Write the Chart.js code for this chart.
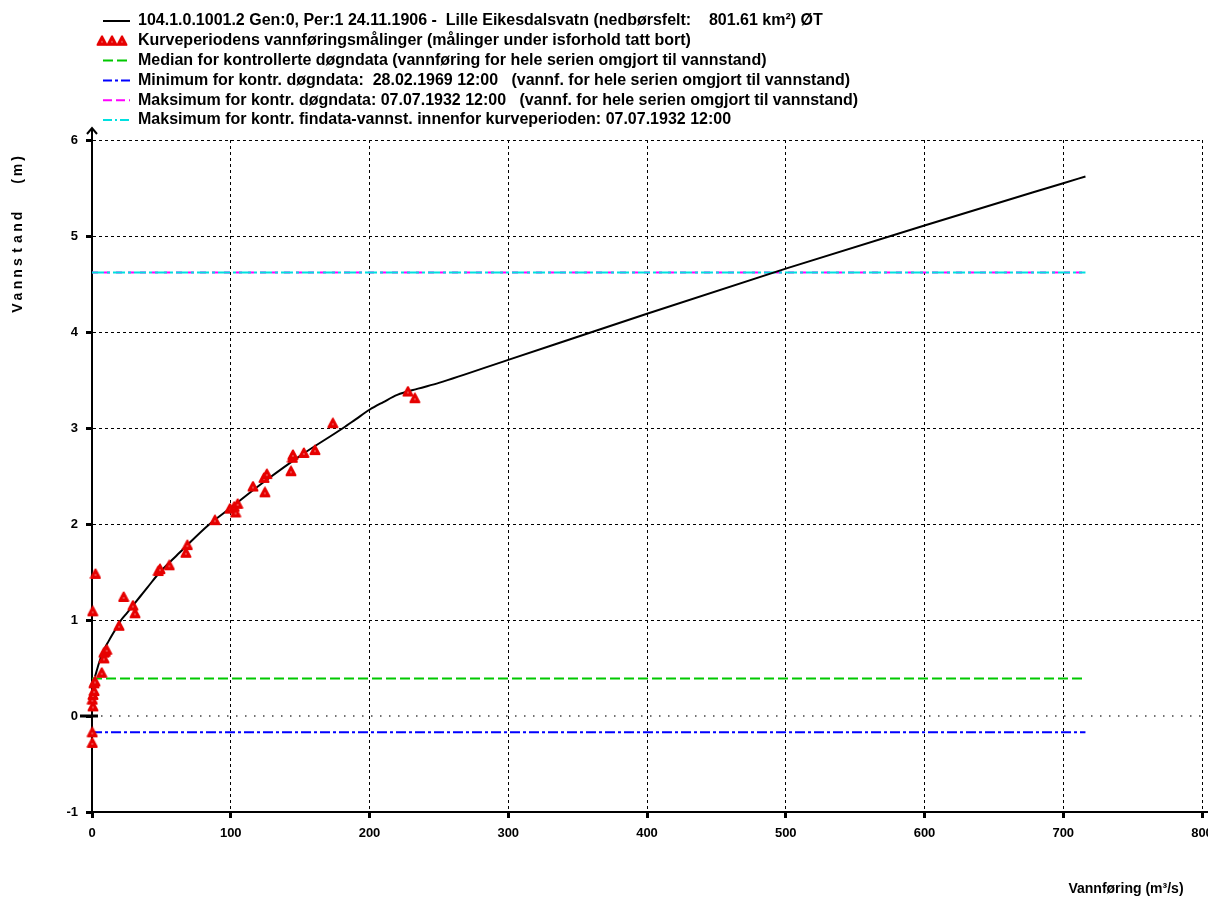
<!DOCTYPE html>
<html>
<head>
<meta charset="utf-8">
<script src="https://cdn.jsdelivr.net/npm/chart.js@4.4.0/dist/chart.umd.min.js"></script>
<style>
html, body { margin: 0; padding: 0; background: #fff; overflow: hidden; }
canvas { display: block; }
</style>
</head>
<body>
<canvas id="chart" width="1230" height="899"></canvas>
<script>
// Rating curve: vannføring (m3/s) -> vannstand (m)
const curveQ = [2.2, 5, 8, 12, 16, 21, 25, 30, 35, 40, 49, 58, 63, 70, 84, 100, 125, 150, 181, 190, 200, 210, 220, 235, 250, 300, 400, 500, 600, 700, 716];
const curveH = [0.41, 0.55, 0.67, 0.78, 0.88, 1.0, 1.07, 1.16, 1.25, 1.34, 1.50, 1.63, 1.70, 1.80, 1.99, 2.17, 2.45, 2.71, 3.0, 3.09, 3.19, 3.27, 3.345, 3.41, 3.47, 3.71, 4.19, 4.66, 5.11, 5.55, 5.62];

// Measurements (vannføringsmålinger)
const measQ = [0.2, 0.2, 0.7, 0.2, 0.7, 1.5, 1.4, 2.2, 7, 8.6, 8.6, 9.6, 10.6, 19.5, 0.5, 31, 29.5, 22.8, 2.5, 47.8, 49, 55.7, 67.7, 68.7, 88.6, 99.4, 102.5, 105, 103.5, 116, 124.6, 124, 126, 143.4, 144.5, 144.8, 152.7, 160.7, 173.6, 227.7, 232.7];
const measH = [-0.28, -0.17, 0.10, 0.17, 0.22, 0.26, 0.34, 0.36, 0.45, 0.60, 0.66, 0.67, 0.69, 0.94, 1.09, 1.07, 1.15, 1.24, 1.48, 1.51, 1.53, 1.57, 1.70, 1.78, 2.04, 2.16, 2.18, 2.21, 2.12, 2.39, 2.33, 2.48, 2.52, 2.55, 2.69, 2.72, 2.74, 2.77, 3.05, 3.38, 3.31];

// Reference levels (m) and the span they are drawn over
const medianLevel = 0.39;
const minLevel = -0.17;
const maxLevel = 4.62;
const maxFindataLevel = 4.62;
const refLineQ = [0, 716];

// Axes
const xTicks = [0, 100, 200, 300, 400, 500, 600, 700, 800];
const yTicks = [-1, 0, 1, 2, 3, 4, 5, 6];
const xTitle = "Vannføring (m³/s)";
const yTitle = "Vannstand  (m)";

const legendLabels = [
  "104.1.0.1001.2 Gen:0, Per:1 24.11.1906 -  Lille Eikesdalsvatn (nedbørsfelt:    801.61 km²) ØT",
  "Kurveperiodens vannføringsmålinger (målinger under isforhold tatt bort)",
  "Median for kontrollerte døgndata (vannføring for hele serien omgjort til vannstand)",
  "Minimum for kontr. døgndata:  28.02.1969 12:00   (vannf. for hele serien omgjort til vannstand)",
  "Maksimum for kontr. døgndata: 07.07.1932 12:00   (vannf. for hele serien omgjort til vannstand)",
  "Maksimum for kontr. findata-vannst. innenfor kurveperioden: 07.07.1932 12:00",
];

function pairs(xs, ys) {
  return xs.map((x, i) => ({ x: x, y: ys[i] }));
}
function level(v) {
  return refLineQ.map((x) => ({ x: x, y: v }));
}

// red triangle marker with a white dot
const marker = document.createElement("canvas");
marker.width = 12;
marker.height = 12;
(function () {
  const c = marker.getContext("2d");
  c.fillStyle = "#e60000";
  c.strokeStyle = "#e60000";
  c.lineJoin = "round";
  c.lineWidth = 2;
  c.beginPath();
  c.moveTo(6, 1.5);
  c.lineTo(10.5, 10);
  c.lineTo(1.5, 10);
  c.closePath();
  c.fill();
  c.stroke();
  c.fillStyle = "#fff";
  c.fillRect(5.5, 6.5, 1, 1);
})();

const legendStyles = [
  { color: "#000", dash: [] },
  { marker: true },
  { color: "#00c800", dash: [10, 4] },
  { color: "#0000ff", dash: [9, 3, 3, 3] },
  { color: "#ff00ff", dash: [9, 4] },
  { color: "#00e0e0", dash: [9, 3, 2, 3] },
];

const extras = {
  id: "extras",
  afterDraw(chart) {
    const ctx = chart.ctx;
    const a = chart.chartArea;
    const ys = chart.scales.y;
    ctx.save();

    // axis arrow and run-out
    ctx.strokeStyle = "#000";
    ctx.lineWidth = 2;
    ctx.beginPath();
    ctx.moveTo(a.left, a.top);
    ctx.lineTo(a.left, a.top - 12);
    ctx.moveTo(a.left - 5, a.top - 6);
    ctx.lineTo(a.left, a.top - 12);
    ctx.lineTo(a.left + 5, a.top - 6);
    ctx.moveTo(a.right, a.bottom);
    ctx.lineTo(chart.width, a.bottom);
    ctx.stroke();

    // wide zero tick
    const y0 = ys.getPixelForValue(0);
    ctx.lineWidth = 3;
    ctx.beginPath();
    ctx.moveTo(a.left - 12, y0);
    ctx.lineTo(a.left + 6, y0);
    ctx.stroke();

    // legend
    ctx.font = "bold 16px 'Liberation Sans', Arial, sans-serif";
    ctx.textBaseline = "middle";
    ctx.fillStyle = "#000";
    legendLabels.forEach(function (label, i) {
      const y = 21 + i * 19.8;
      const s = legendStyles[i];
      if (s.marker) {
        [102, 112, 122].forEach(function (x) {
          ctx.drawImage(marker, x - 6, y - 6);
        });
      } else {
        ctx.strokeStyle = s.color;
        ctx.lineWidth = 2;
        ctx.setLineDash(s.dash);
        ctx.beginPath();
        ctx.moveTo(103, y);
        ctx.lineTo(130, y);
        ctx.stroke();
        ctx.setLineDash([]);
      }
      ctx.fillText(label, 138, y);
    });

    // axis titles
    ctx.font = "bold 14px 'Liberation Sans', Arial, sans-serif";
    ctx.textAlign = "center";
    ctx.fillText(xTitle, 1126, 889);

    ctx.translate(18, 308);
    ctx.rotate(-Math.PI / 2);
    for (let i = 0; i < yTitle.length; i++) {
      ctx.fillText(yTitle[i], i * 11.5, 0);
    }
    ctx.restore();
  },
};

const tickFont = { family: "'Liberation Sans', Arial, sans-serif", size: 13, weight: "bold" };

new Chart(document.getElementById("chart"), {
  type: "scatter",
  data: {
    datasets: [
      {
        label: "curve",
        data: pairs(curveQ, curveH),
        showLine: true,
        borderColor: "#000",
        borderWidth: 2,
        pointRadius: 0,
        cubicInterpolationMode: "monotone",
        order: 2,
      },
      {
        label: "målinger",
        data: pairs(measQ, measH),
        pointStyle: marker,
        pointRadius: 5,
        clip: false,
        order: 1,
      },
      {
        label: "median",
        data: level(medianLevel),
        showLine: true,
        borderColor: "#00c800",
        borderWidth: 2,
        borderDash: [10, 4],
        pointRadius: 0,
        order: 5,
      },
      {
        label: "minimum",
        data: level(minLevel),
        showLine: true,
        borderColor: "#0000ff",
        borderWidth: 2,
        borderDash: [10, 3, 3, 3],
        pointRadius: 0,
        order: 5,
      },
      {
        label: "maksimum",
        data: level(maxLevel),
        showLine: true,
        borderColor: "#ff00ff",
        borderWidth: 2,
        borderDash: [6, 6],
        pointRadius: 0,
        order: 4,
      },
      {
        label: "findata",
        data: level(maxFindataLevel),
        showLine: true,
        borderColor: "#00e0e0",
        borderWidth: 2,
        borderDash: [12, 3, 3, 3],
        pointRadius: 0,
        order: 3,
      },
      {
        label: "null",
        data: [{ x: xTicks[0], y: 0 }, { x: xTicks[xTicks.length - 1], y: 0 }],
        showLine: true,
        borderColor: "#444",
        borderWidth: 1.5,
        borderDash: [1.5, 7.5],
        pointRadius: 0,
        order: 6,
      },
    ],
  },
  options: {
    responsive: false,
    animation: false,
    devicePixelRatio: 1,
    layout: { padding: { top: 140, right: 28, bottom: 0, left: 0 } },
    plugins: { legend: { display: false }, tooltip: { enabled: false } },
    scales: {
      x: {
        type: "linear",
        min: xTicks[0],
        max: xTicks[xTicks.length - 1],
        afterFit: function (scale) { scale.height = 87; },
        ticks: { stepSize: 100, color: "#000", font: tickFont, padding: 8, maxRotation: 0 },
        grid: { color: "#000", lineWidth: 1, tickLength: 6, tickWidth: 3, tickColor: "#000" },
        border: { color: "#000", width: 2, dash: [3, 3] },
      },
      y: {
        type: "linear",
        min: yTicks[0],
        max: yTicks[yTicks.length - 1],
        afterFit: function (scale) { scale.width = 92; },
        ticks: { stepSize: 1, color: "#000", font: tickFont, padding: 8 },
        grid: {
          color: function (c) { return c.tick && c.tick.value === 0 ? "rgba(0,0,0,0)" : "#000"; },
          lineWidth: 1,
          tickLength: 6,
          tickWidth: 3,
          tickColor: "#000",
        },
        border: { color: "#000", width: 2, dash: [3, 3] },
      },
    },
  },
  plugins: [extras],
});
</script>
</body>
</html>
